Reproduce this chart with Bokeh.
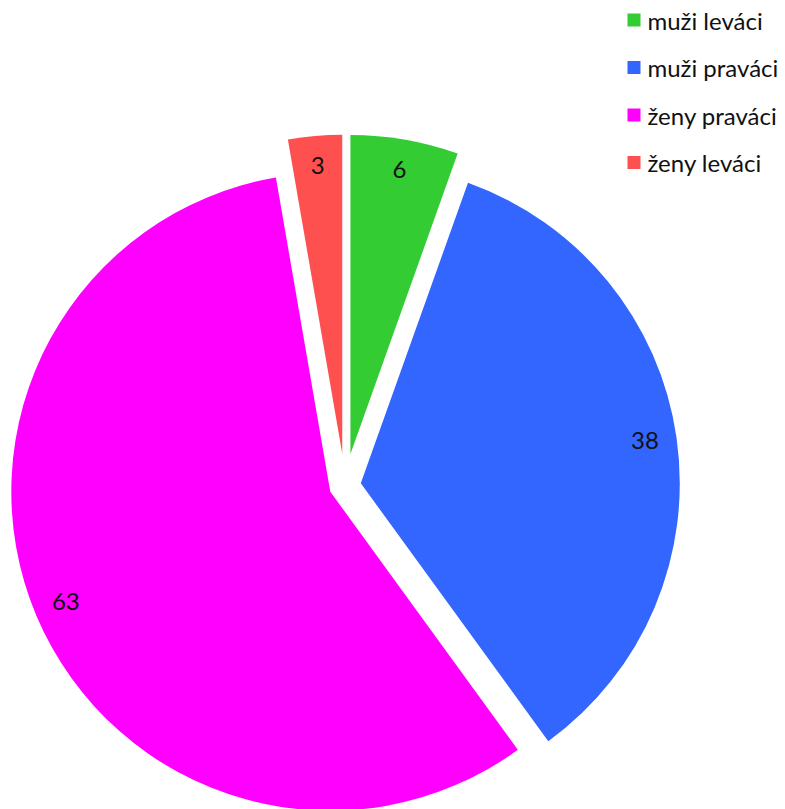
import math
from bokeh.plotting import figure
from bokeh.models import Range1d, ColumnDataSource
from bokeh.core.properties import value
from bokeh.embed import file_html
from bokeh.resources import INLINE

# Data
categories = ["muži leváci", "muži praváci", "ženy praváci", "ženy leváci"]
counts = [6, 38, 63, 3]
colors = ["#33CC33", "#3366FF", "#FF00FF", "#FF5050"]
explode = [0.10, 0.05, 0.05, 0.10]

W, H = 785, 809
cx, cy = 344.5, H - 485.0
R = 319.0

total = sum(counts)
xs, ys, starts, ends, lx, ly = [], [], [], [], [], []
cum = 0.0
for c, e in zip(counts, explode):
    a_hi = math.pi / 2 - 2 * math.pi * cum / total
    cum += c
    a_lo = math.pi / 2 - 2 * math.pi * cum / total
    mid = (a_hi + a_lo) / 2
    ox = cx + e * R * math.cos(mid)
    oy = cy + e * R * math.sin(mid)
    xs.append(ox)
    ys.append(oy)
    starts.append(a_lo)
    ends.append(a_hi)
    lx.append(ox + 0.9 * R * math.cos(mid))
    ly.append(oy + 0.9 * R * math.sin(mid))

src = ColumnDataSource(dict(x=xs, y=ys, start=starts, end=ends, color=colors,
                            lx=lx, ly=ly, lab=[str(c) for c in counts]))

p = figure(width=W, height=H, output_backend="svg", toolbar_location=None,
           x_range=Range1d(0, W), y_range=Range1d(0, H),
           x_axis_location=None, y_axis_location=None, min_border=0)
p.outline_line_color = None
p.xgrid.visible = False
p.ygrid.visible = False
p.background_fill_color = "white"
p.border_fill_color = "white"

p.wedge(x="x", y="y", radius=R, start_angle="start", end_angle="end",
        fill_color="color", line_color=None, source=src)

p.text(x="lx", y="ly", text="lab", source=src, text_align="center",
       text_baseline="middle", text_font=value("Lato"), text_font_size="24px",
       text_color="#111111", y_offset=-2)

# Legend
leg_x0 = 633.5
leg_y0 = H - 19.5
leg_dy = 47.5
leg_ys = [leg_y0 - i * leg_dy for i in range(len(categories))]
lsrc = ColumnDataSource(dict(x=[leg_x0] * len(categories), y=leg_ys,
                             tx=[leg_x0 + 13.5] * len(categories),
                             color=colors, lab=categories))
p.scatter(x="x", y="y", marker="square", size=13, fill_color="color",
          line_color=None, source=lsrc)
p.text(x="tx", y="y", text="lab", source=lsrc, text_align="left",
       text_baseline="middle", text_font=value("Lato"), text_font_size="24px",
       text_color="#111111")

open("out.html", "w").write(file_html(p, INLINE))
